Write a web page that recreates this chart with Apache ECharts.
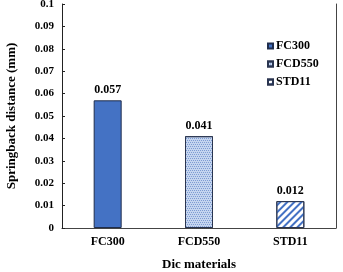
<!DOCTYPE html>
<html><head><meta charset="utf-8">
<script src="https://cdn.jsdelivr.net/npm/echarts@6/dist/echarts.min.js"></script>
<style>html,body{margin:0;padding:0;background:#fff}#c{width:343px;height:272px}</style>
</head><body><div id="c"></div>
<script>
var categories = ['FC300', 'FCD550', 'STD11'];
var values = [0.057, 0.041, 0.012];
var yTicks = [0, 0.01, 0.02, 0.03, 0.04, 0.05, 0.06, 0.07, 0.08, 0.09, 0.1];

var FONT = '"Liberation Serif","Times New Roman",serif';
var styles = [
  {color: '#4472C4', borderColor: '#1f2d4d', borderWidth: 1},
  {color: '#c5d5ef', borderColor: '#2a3550', borderWidth: 1,
   decal: {symbol: 'rect', symbolSize: 1, dashArrayX: [[1, 1], [0, 1, 1, 0]], dashArrayY: [1, 1], color: '#7d9bd3'}},
  {color: '#ffffff', borderColor: '#2a3550', borderWidth: 1,
   decal: {symbol: 'rect', symbolSize: 1, dashArrayX: [1, 0], dashArrayY: [2, 3], rotation: -Math.PI / 4, color: '#4472C4'}}
];
var series = categories.map(function (name, i) {
  var d = categories.map(function (_, j) { return j === i ? values[i] : null; });
  return {
    name: name, type: 'bar', data: d, barWidth: 28, barGap: '-100%',
    itemStyle: styles[i],
    label: {show: true, position: 'top', distance: 4, color: '#000', fontFamily: FONT, fontWeight: 'bold', fontSize: 12,
      formatter: function (p) { return p.value.toFixed(3); }}
  };
});

var chart = echarts.init(document.getElementById('c'));
chart.setOption({
  animation: false,
  backgroundColor: '#fff',
  grid: {left: 62, right: 7, top: 4, bottom: 44, containLabel: false, outerBoundsMode: 'none'},
  legend: {
    orient: 'vertical', left: 262, top: 35, itemWidth: 5, itemHeight: 5, itemGap: 6,
    icon: 'rect',
    textStyle: {fontFamily: FONT, fontWeight: 'bold', fontSize: 12, color: '#000', padding: [0, 0, 0, -2]},
    data: categories
  },
  xAxis: [{
    type: 'category', data: categories,
    axisLine: {lineStyle: {color: '#d0d0d0', width: 1}},
    axisTick: {show: false},
    axisLabel: {color: '#000', fontFamily: FONT, fontWeight: 'bold', fontSize: 12, margin: 8},
    name: 'Dic materials', nameLocation: 'middle', nameGap: 30,
    nameTextStyle: {color: '#000', fontFamily: FONT, fontWeight: 'bold', fontSize: 13}
  }, {
    type: 'category', data: categories, position: 'top',
    axisLine: {lineStyle: {color: '#444', width: 1}}, axisTick: {show: false}, axisLabel: {show: false}
  }],
  yAxis: [{
    type: 'value', min: 0, max: 0.1, interval: 0.01,
    axisLine: {show: true, lineStyle: {color: '#222', width: 1}},
    axisTick: {show: true, inside: true, length: 3, lineStyle: {color: '#222'}},
    splitLine: {show: false},
    axisLabel: {color: '#000', fontFamily: FONT, fontWeight: 'bold', fontSize: 11, margin: 8,
      formatter: function (v) { var t = yTicks.filter(function (x) { return Math.abs(x - v) < 1e-9; }); return t.length ? String(t[0]) : ''; }},
    name: 'Springback distance (mm)', nameLocation: 'middle', nameGap: 44,
    nameTextStyle: {color: '#000', fontFamily: FONT, fontWeight: 'bold', fontSize: 13}
  }, {
    type: 'value', min: 0, max: 0.1, position: 'right',
    axisLine: {show: true, lineStyle: {color: '#444', width: 1}},
    axisTick: {show: false}, axisLabel: {show: false}, splitLine: {show: false}
  }],
  series: series
});
</script></body></html>
